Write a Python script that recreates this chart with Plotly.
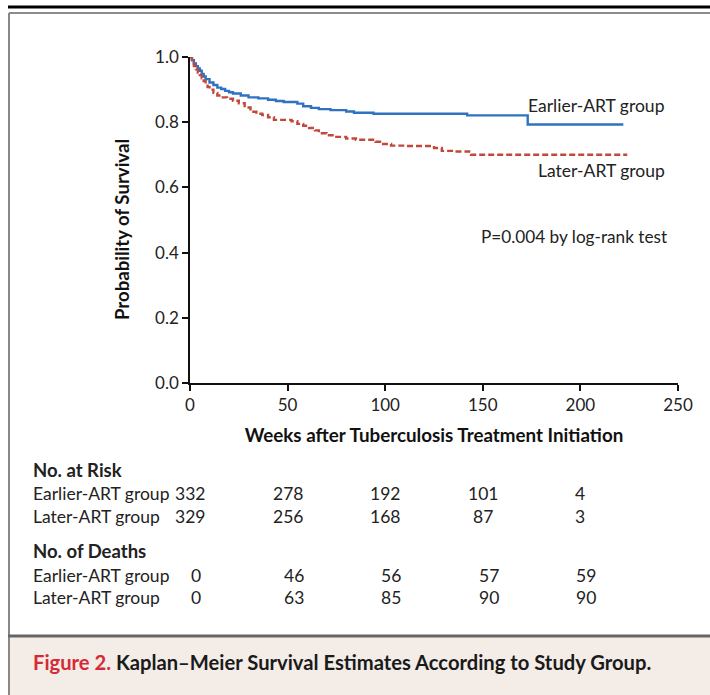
import plotly.graph_objects as go

# ---- data ----
earlier_weeks = [0, 1, 2, 3, 4, 5, 6, 7, 8, 10, 12, 14, 16, 18, 20, 22, 26, 30, 35, 40, 44, 48, 55, 58, 62, 66, 72, 80, 84, 94, 142, 173, 222]
earlier_surv = [1.0, 0.99, 0.98, 0.972, 0.965, 0.958, 0.948, 0.94, 0.932, 0.922, 0.914, 0.906, 0.902, 0.896, 0.892, 0.888, 0.882, 0.876, 0.873, 0.869, 0.865, 0.862, 0.857, 0.849, 0.844, 0.840, 0.837, 0.833, 0.829, 0.826, 0.821, 0.793, 0.793]

later_weeks = [0, 1, 2, 3, 4, 5, 6, 7, 8, 9, 10, 12, 14, 16, 19, 22, 25, 28, 31, 34, 37, 40, 43, 52, 55, 58, 61, 64, 66, 70, 74, 80, 85, 95, 98, 103, 110, 125, 129, 135, 143, 144, 224]
later_surv = [1.0, 0.985, 0.972, 0.962, 0.952, 0.945, 0.935, 0.926, 0.918, 0.908, 0.9, 0.89, 0.882, 0.876, 0.872, 0.866, 0.858, 0.845, 0.832, 0.826, 0.822, 0.815, 0.807, 0.803, 0.795, 0.789, 0.782, 0.775, 0.766, 0.76, 0.755, 0.75, 0.746, 0.74, 0.733, 0.728, 0.727, 0.721, 0.712, 0.71, 0.705, 0.70, 0.70]

x_ticks = [0, 50, 100, 150, 200, 250]
y_ticks = [0.0, 0.2, 0.4, 0.6, 0.8, 1.0]

table_weeks = [0, 50, 100, 150, 200]
risk_earlier = [332, 278, 192, 101, 4]
risk_later = [329, 256, 168, 87, 3]
deaths_earlier = [0, 46, 56, 57, 59]
deaths_later = [0, 63, 85, 90, 90]

group_names = ["Earlier-ART group", "Later-ART group"]

FONT = "Lato"
REG = 17.5
BOLD = 18.5
W, H = 710, 695
L, R, T, B = 190, 32, 57, 312
PW, PH = W - L - R, H - T - B


def pxp(p):
    return (p - L) / PW


def pyp(p):
    return (H - B - p) / PH


fig = go.Figure()
fig.add_trace(go.Scatter(x=earlier_weeks, y=earlier_surv, mode="lines", line_shape="hv",
                         line=dict(color="#2f72c2", width=2.4), showlegend=False, hoverinfo="skip"))
fig.add_trace(go.Scatter(x=later_weeks, y=later_surv, mode="lines", line_shape="hv",
                         line=dict(color="#c2483c", width=2.4, dash="6px,3px"), showlegend=False, hoverinfo="skip"))

ann = []
# curve labels
ann.append(dict(x=244.5, y=0.852, xref="x", yref="y", text="Earlier-ART group", showarrow=False,
                xanchor="right", yanchor="middle", font=dict(size=REG, family=FONT, color="#222")))
ann.append(dict(x=244.5, y=0.652, xref="x", yref="y", text="Later-ART group", showarrow=False,
                xanchor="right", yanchor="middle", font=dict(size=REG, family=FONT, color="#222")))
ann.append(dict(x=245.5, y=0.448, xref="x", yref="y", text="P=0.004 by log-rank test", showarrow=False,
                xanchor="right", yanchor="middle", font=dict(size=17.2, family=FONT, color="#222")))

# y-axis title (placed as annotation for exact vertical position)
ann.append(dict(x=pxp(122), y=pyp(230), xref="paper", yref="paper", text="<b>Probability of Survival</b>",
                textangle=-90, showarrow=False, xanchor="center", yanchor="middle",
                font=dict(size=18.6, family=FONT, color="#111")))


def row_label(text, ypix, bold=False):
    t = "<b>%s</b>" % text if bold else text
    ann.append(dict(x=pxp(31), y=pyp(ypix), xref="paper", yref="paper", text=t, showarrow=False,
                    xanchor="left", yanchor="middle",
                    font=dict(size=BOLD if bold else REG, family=FONT, color="#222")))


def row_vals(vals, ypix, shift):
    for wk, v in zip(table_weeks, vals):
        ann.append(dict(x=wk, y=pyp(ypix), xref="x", yref="paper", text=str(v), showarrow=False,
                        xanchor="center", yanchor="middle", xshift=shift,
                        font=dict(size=REG, family=FONT, color="#222")))


row_label("No. at Risk", 470, bold=True)
row_label(group_names[0], 493)
row_vals(risk_earlier, 493, 0)
row_label(group_names[1], 516)
row_vals(risk_later, 516, 0)
row_label("No. of Deaths", 551, bold=True)
row_label(group_names[0], 575)
row_vals(deaths_earlier, 575, 6)
row_label(group_names[1], 597)
row_vals(deaths_later, 597, 6)

# caption
ann.append(dict(x=pxp(31), y=pyp(662), xref="paper", yref="paper",
                text="<b><span style='color:#d52b36'>Figure 2.</span> Kaplan\u2013Meier Survival Estimates According to Study Group.</b>",
                showarrow=False, xanchor="left", yanchor="middle",
                font=dict(size=20.2, family=FONT, color="#1a1a1a")))

shapes = [
    # top black rule
    dict(type="line", xref="paper", yref="paper", x0=pxp(8), x1=pxp(715), y0=pyp(7), y1=pyp(7),
         line=dict(color="black", width=3)),
    # caption background
    dict(type="rect", xref="paper", yref="paper", x0=pxp(9), x1=pxp(715), y0=pyp(636), y1=pyp(700),
         fillcolor="#f3ece7", line=dict(width=0), layer="below"),
    # frame top & left
    dict(type="line", xref="paper", yref="paper", x0=pxp(9), x1=pxp(715), y0=pyp(13), y1=pyp(13),
         line=dict(color="#8c8c8c", width=2)),
    dict(type="line", xref="paper", yref="paper", x0=pxp(9), x1=pxp(9), y0=pyp(13), y1=pyp(700),
         line=dict(color="#888888", width=2)),
    # caption top rule
    dict(type="line", xref="paper", yref="paper", x0=pxp(8), x1=pxp(715), y0=pyp(636), y1=pyp(636),
         line=dict(color="#666666", width=3)),
]

fig.update_layout(
    width=W, height=H, margin=dict(l=L, r=R, t=T, b=B, autoexpand=False),
    paper_bgcolor="white", plot_bgcolor="white",
    font=dict(family=FONT, size=REG, color="#222"),
    annotations=ann, shapes=shapes,
    xaxis=dict(range=[0, 250], tickvals=x_ticks, ticktext=[str(v) for v in x_ticks],
               showline=True, linecolor="#111", linewidth=1.5, ticks="outside", ticklen=6,
               tickwidth=1.5, tickcolor="#111", showgrid=False, zeroline=False,
               tickfont=dict(size=17, family=FONT, color="#222"),
               title=dict(text="<b>Weeks after Tuberculosis Treatment Initiation</b>", standoff=15,
                          font=dict(size=18.8, family=FONT, color="#111"))),
    yaxis=dict(range=[0, 1], tickvals=y_ticks, ticktext=["%.1f" % v for v in y_ticks],
               showline=True, linecolor="#111", linewidth=1.5, ticks="outside", ticklen=6,
               tickwidth=1.5, tickcolor="#111", showgrid=False, zeroline=False,
               tickfont=dict(size=17, family=FONT, color="#222")),
)

fig.write_html("out.html", config={"displayModeBar": False},
               post_script="document.body.style.margin='0';document.body.style.overflow='hidden';")
